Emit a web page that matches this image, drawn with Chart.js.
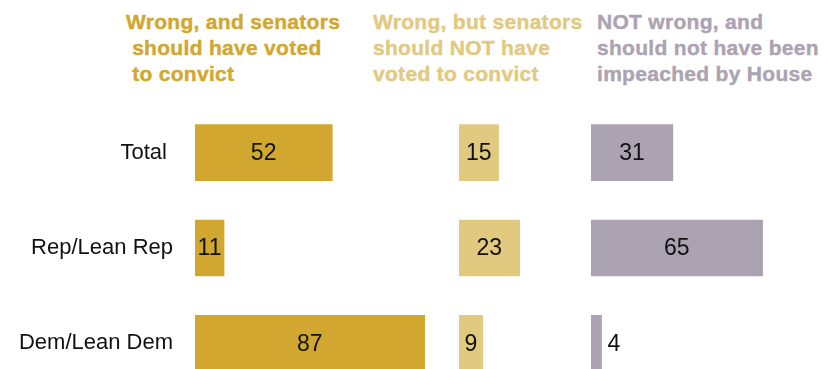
<!DOCTYPE html>
<html lang="en">

<head>
  <meta charset="UTF-8">
  <title>Views of Trump's conduct and the Senate vote</title>
  <script src="https://cdn.jsdelivr.net/npm/chart.js"></script>
  <style>
    body {
      margin: 0;
      background: #fff;
      overflow: hidden;
    }

    #wrap {
      position: relative;
      width: 830px;
      height: 369px;
      overflow: hidden;
    }

    .head {
      position: absolute;
      top: 9px;
      font: bold 21px "Liberation Sans", Arial, sans-serif;
      letter-spacing: 0.3px;
      line-height: 26px;
      white-space: pre;
      -webkit-text-stroke: 0.4px currentColor;
    }

    canvas {
      position: absolute;
      top: 0;
    }
  </style>
</head>

<body>

  <div id="wrap">
    <div class="head" id="head0" style="left:126px"></div>
    <div class="head" id="head1" style="left:373px"></div>
    <div class="head" id="head2" style="left:597px"></div>
    <canvas id="bar0" width="459" height="391" style="left:0"></canvas>
    <canvas id="bar1" width="132" height="391" style="left:459px"></canvas>
    <canvas id="bar2" width="239" height="391" style="left:591px"></canvas>
  </div>

  <script>
    const groups = ["Total ", "Rep/Lean Rep", "Dem/Lean Dem"];
    const convict = [52, 11, 87];
    const wrongNoConvict = [15, 23, 9];
    const notWrong = [31, 65, 4];

    const headings = [
      ["Wrong, and senators", " should have voted", " to convict"],
      ["Wrong, but senators", "should NOT have", "voted to convict"],
      ["NOT wrong, and", "should not have been", "impeached by House"]
    ];
    const colors = ['#D1A730', '#E2C980', '#ACA3B2'];

    const PX_PER_UNIT = 2.64;   // same bar scale in every column
    const LABEL_W = 195;        // room for the group names in the first column
    const FONT = '"Liberation Sans", Arial, sans-serif';

    headings.forEach((lines, i) => {
      const el = document.getElementById('head' + i);
      el.textContent = lines.join('\n');
      el.style.color = colors[i];
    });

    // numbers inside the bars, or just past the end when the bar is too thin
    const valueLabels = {
      id: 'valueLabels',
      afterDatasetsDraw(chart) {
        const ctx = chart.ctx;
        const values = chart.data.datasets[0].data;
        ctx.save();
        ctx.font = '23px ' + FONT;
        ctx.fillStyle = '#111';
        ctx.textBaseline = 'middle';
        chart.getDatasetMeta(0).data.forEach((bar, i) => {
          const txt = String(values[i]);
          const w = ctx.measureText(txt).width;
          if (w + 2 <= bar.x - bar.base) {
            ctx.textAlign = 'center';
            ctx.fillText(txt, (bar.x + bar.base) / 2, bar.y + 1);
          } else {
            ctx.textAlign = 'left';
            ctx.fillText(txt, bar.x + 6, bar.y + 1);
          }
        });
        ctx.restore();
      }
    };

    function makePanel(id, values, color, withLabels) {
      const canvas = document.getElementById(id);
      const areaW = withLabels ? canvas.width - LABEL_W : canvas.width;
      const yAxis = {
        display: withLabels,
        grid: { display: false, drawTicks: false },
        border: { display: false },
        ticks: {
          padding: 22,
          color: '#111',
          font: { family: FONT, size: 22 }
        }
      };
      if (withLabels) {
        // fixed label column; no extra vertical room for the tick text
        yAxis.afterFit = (scale) => {
          scale.width = LABEL_W;
          scale.paddingTop = 0;
          scale.paddingBottom = 0;
        };
      }
      new Chart(canvas, {
        type: 'bar',
        data: {
          labels: groups,
          datasets: [{
            data: values,
            backgroundColor: color,
            barThickness: 56
          }]
        },
        options: {
          indexAxis: 'y',
          responsive: false,
          animation: false,
          layout: { padding: { top: 105, left: 0, right: 0, bottom: 0 } },
          plugins: {
            legend: { display: false },
            tooltip: { enabled: false }
          },
          scales: {
            x: {
              display: false,
              min: 0,
              max: areaW / PX_PER_UNIT
            },
            y: yAxis
          }
        },
        plugins: [valueLabels]
      });
    }

    makePanel('bar0', convict, colors[0], true);
    makePanel('bar1', wrongNoConvict, colors[1], false);
    makePanel('bar2', notWrong, colors[2], false);
  </script>
</body>

</html>
